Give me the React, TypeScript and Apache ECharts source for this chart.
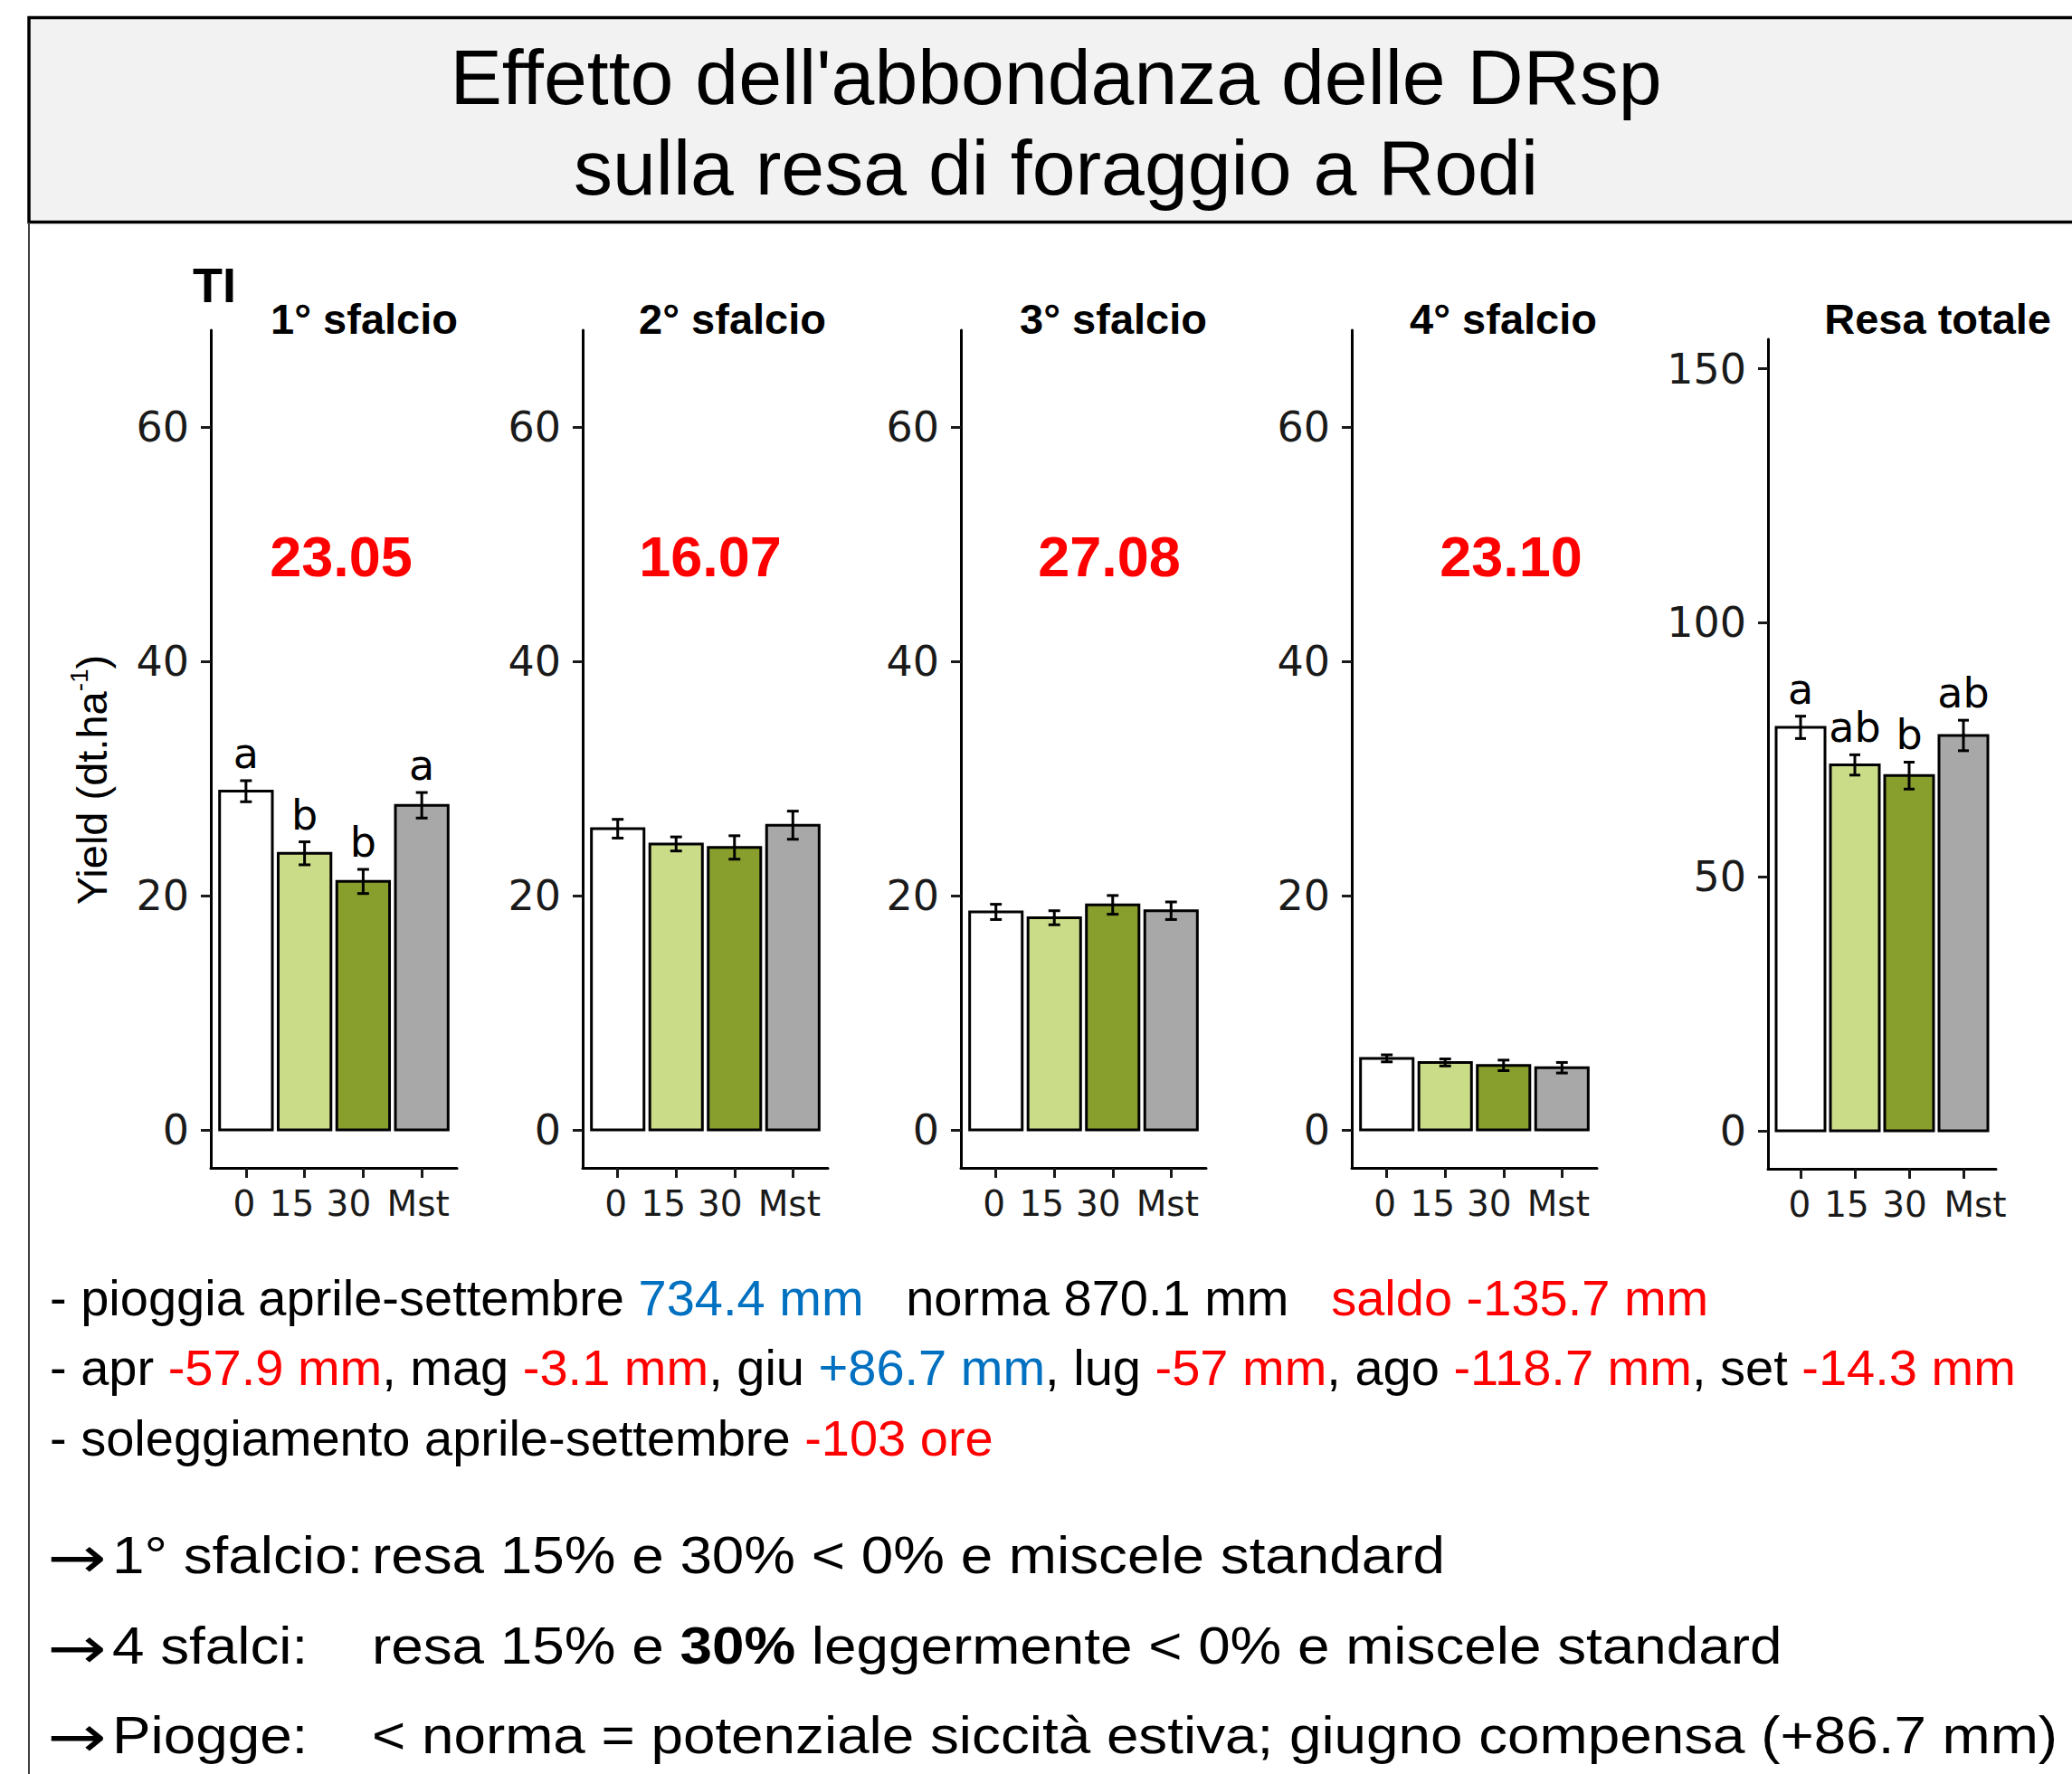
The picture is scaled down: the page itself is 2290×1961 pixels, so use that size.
import React, { useEffect, useRef } from 'react';
import * as echarts from 'echarts';

// ---------- data ----------
const categories = ['0', '15', '30', 'Mst'];
const catPositions = [1, 2, 3, 4];
const barColors = ['#ffffff', '#cbdc88', '#889e2d', '#a8a8a8'];

const cut1Mean = [28.9, 23.6, 21.2, 27.7];
const cut1Se = [0.9, 0.98, 1.03, 1.09];
const cut1Letters = ['a', 'b', 'b', 'a'];

const cut2Mean = [25.7, 24.4, 24.1, 26.0];
const cut2Se = [0.8, 0.6, 1.0, 1.2];

const cut3Mean = [18.6, 18.1, 19.2, 18.7];
const cut3Se = [0.65, 0.6, 0.8, 0.75];

const cut4Mean = [6.1, 5.75, 5.5, 5.3];
const cut4Se = [0.3, 0.3, 0.45, 0.45];

const totalMean = [79.4, 72.0, 69.9, 77.8];
const totalSe = [2.2, 2.0, 2.65, 3.0];
const totalLetters = ['a', 'ab', 'b', 'ab'];

const panelTitles = ['1° sfalcio', '2° sfalcio', '3° sfalcio', '4° sfalcio', 'Resa totale'];
const panelNumbers = ['23.05', '16.07', '27.08', '23.10'];
const cutTicks = [0, 20, 40, 60];
const totalTicks = [0, 50, 100, 150];

// ---------- layout ----------
const grids = [
  { left: 233, top: 365, width: 272, height: 926 },
  { left: 644, top: 365, width: 271, height: 926 },
  { left: 1062, top: 365, width: 271, height: 926 },
  { left: 1494, top: 365, width: 271, height: 926 },
  { left: 1954, top: 375, width: 252, height: 917 },
];
const titleRight = [506, 913, 1334, 1765, 2267];
const numberCenter = [377, 785, 1226, 1670];
// horizontal offset (px) of each x tick label relative to its tick, as in the reference
const cutLabelShift = [-2, -14, -16, -4];
const totalLabelShift = [-1, -9, -5, 13];

const panels = [
  { mean: cut1Mean, se: cut1Se, letters: cut1Letters, ticks: cutTicks, min: -3.25, max: 68.25, shift: cutLabelShift },
  { mean: cut2Mean, se: cut2Se, letters: null, ticks: cutTicks, min: -3.25, max: 68.25, shift: cutLabelShift },
  { mean: cut3Mean, se: cut3Se, letters: null, ticks: cutTicks, min: -3.25, max: 68.25, shift: cutLabelShift },
  { mean: cut4Mean, se: cut4Se, letters: null, ticks: cutTicks, min: -3.25, max: 68.25, shift: cutLabelShift },
  { mean: totalMean, se: totalSe, letters: totalLetters, ticks: totalTicks, min: -7.5, max: 155.8, shift: totalLabelShift },
];

const SANS = 'Liberation Sans';
const DV = 'DejaVu Sans';

function txt(x: number, y: number, text: string, o: any = {}) {
  const align = o.align || 'left';
  const va = o.va || 'middle';
  return {
    type: 'text',
    x,
    y,
    rotation: o.rotation || 0,
    scaleX: o.scaleX || 1,
    scaleY: o.scaleY || 1,
    silent: true,
    z: 10,
    style: {
      text,
      fill: o.fill || '#000',
      fontSize: o.fontSize || 40,
      fontFamily: o.fontFamily || SANS,
      fontWeight: o.fontWeight || 'normal',
      align,
      textAlign: align,
      verticalAlign: va,
      textVerticalAlign: va,
      rich: o.rich,
    },
  };
}

function richSet(size: number, family: string) {
  return {
    k: { fill: '#000', color: '#000', fontSize: size, fontFamily: family },
    r: { fill: '#ff0000', color: '#ff0000', fontSize: size, fontFamily: family },
    b: { fill: '#0070c0', color: '#0070c0', fontSize: size, fontFamily: family },
    bd: { fill: '#000', color: '#000', fontSize: size, fontFamily: family, fontWeight: 'bold' },
  };
}

function makeOption() {
  const xAxis: any[] = [];
  const yAxis: any[] = [];
  const series: any[] = [];

  panels.forEach((p, i) => {
    const rich: any = {};
    p.shift.forEach((d, k) => {
      rich['s' + k] = {
        fontSize: 39,
        fontFamily: DV,
        color: '#1a1a1a',
        padding: d < 0 ? [0, -2 * d, 0, 0] : [0, 0, 0, 2 * d],
      };
    });
    xAxis.push({
      type: 'value',
      gridIndex: i,
      min: 0.4,
      max: 4.6,
      position: 'bottom',
      axisLine: { show: true, onZero: false, lineStyle: { color: '#000', width: 3 } },
      axisTick: { show: true, length: 11, customValues: catPositions, lineStyle: { color: '#1a1a1a', width: 3 } },
      axisLabel: {
        show: true,
        customValues: catPositions,
        formatter: (v: number) => {
          const k = Math.round(v) - 1;
          return categories[k] !== undefined ? '{s' + k + '|' + categories[k] + '}' : '';
        },
        rich,
        margin: 20,
        fontSize: 39,
        fontFamily: DV,
        color: '#1a1a1a',
        hideOverlap: false,
        showMinLabel: true,
        showMaxLabel: true,
      },
      splitLine: { show: false },
    });
    yAxis.push({
      type: 'value',
      gridIndex: i,
      min: p.min,
      max: p.max,
      axisLine: { show: true, onZero: false, lineStyle: { color: '#000', width: 3 } },
      axisTick: { show: true, length: 11, customValues: p.ticks, lineStyle: { color: '#1a1a1a', width: 3 } },
      axisLabel: {
        show: true,
        customValues: p.ticks,
        margin: 24,
        fontSize: 46,
        fontFamily: DV,
        color: '#1a1a1a',
        hideOverlap: false,
      },
      splitLine: { show: false },
    });
    const data = p.mean.map((m, j) => [catPositions[j], m, p.se[j], j]);
    series.push({
      type: 'custom',
      xAxisIndex: i,
      yAxisIndex: i,
      data,
      encode: { x: 0, y: 1 },
      renderItem: (params: any, api: any) => {
        const x = api.value(0);
        const m = api.value(1);
        const s = api.value(2);
        const j = api.value(3);
        const tl = api.coord([x - 0.45, m]);
        const br = api.coord([x + 0.45, 0]);
        const top = api.coord([x, m + s]);
        const bot = api.coord([x, m - s]);
        const capL = api.coord([x - 0.1, m])[0];
        const capR = api.coord([x + 0.1, m])[0];
        const children: any[] = [
          {
            type: 'rect',
            shape: { x: tl[0], y: tl[1], width: br[0] - tl[0], height: br[1] - tl[1] },
            style: { fill: barColors[j], stroke: '#000', lineWidth: 3 },
          },
          { type: 'line', shape: { x1: top[0], y1: top[1], x2: bot[0], y2: bot[1] }, style: { stroke: '#000', lineWidth: 3 } },
          { type: 'line', shape: { x1: capL, y1: top[1], x2: capR, y2: top[1] }, style: { stroke: '#000', lineWidth: 3 } },
          { type: 'line', shape: { x1: capL, y1: bot[1], x2: capR, y2: bot[1] }, style: { stroke: '#000', lineWidth: 3 } },
        ];
        if (p.letters) {
          children.push({
            type: 'text',
            style: {
              text: p.letters[j],
              x: top[0],
              y: top[1] - 30,
              fill: '#000',
              fontSize: 46,
              fontFamily: DV,
              align: 'center',
              textAlign: 'center',
              verticalAlign: 'middle',
              textVerticalAlign: 'middle',
            },
          });
        }
        return { type: 'group', children };
      },
    });
  });

  const graphic: any[] = [];
  // title box
  graphic.push({
    type: 'rect',
    z: 1,
    silent: true,
    shape: { x: 32, y: 19.5, width: 2300, height: 226 },
    style: { fill: '#f2f2f2', stroke: '#000', lineWidth: 3.5 },
  });
  graphic.push({
    type: 'line',
    z: 1,
    silent: true,
    shape: { x1: 32, y1: 246, x2: 32, y2: 1961 },
    style: { stroke: '#404040', lineWidth: 2 },
  });
  graphic.push(txt(1167, 85, "Effetto dell'abbondanza delle DRsp", { align: 'center', fontSize: 86 }));
  graphic.push(txt(1167, 185, 'sulla resa di foraggio a Rodi', { align: 'center', fontSize: 86 }));

  // TI
  graphic.push(txt(213, 315, 'TI', { fontSize: 54, fontWeight: 'bold' }));
  // panel titles
  panelTitles.forEach((t, i) => {
    graphic.push(txt(titleRight[i], 352, t, { align: 'right', fontSize: 47, fontWeight: 'bold' }));
  });
  panelNumbers.forEach((t, i) => {
    graphic.push(txt(numberCenter[i], 615, t, { align: 'center', fontSize: 63, fontWeight: 'bold', fill: '#ff0000' }));
  });
  // y label
  graphic.push(
    txt(101, 862, '{a|Yield (dt.ha}{s|-1}{a|)}', {
      align: 'center',
      rotation: Math.PI / 2,
      fontSize: 47,
      rich: {
        a: { fontSize: 47, fontFamily: SANS, fill: '#000', color: '#000', lineHeight: 56 },
        s: { fontSize: 28, fontFamily: SANS, fill: '#000', color: '#000', verticalAlign: 'top', lineHeight: 56 },
      },
    })
  );

  // notes
  const r56 = richSet(56, SANS);
  graphic.push(
    txt(55, 1434, '{k|- pioggia aprile-settembre }{b|734.4 mm   }{k|norma 870.1 mm   }{r|saldo -135.7 mm}', {
      fontSize: 56,
      rich: r56,
    })
  );
  graphic.push(
    txt(
      55,
      1511,
      '{k|- apr }{r|-57.9 mm}{k|, mag }{r|-3.1 mm}{k|, giu }{b|+86.7 mm}{k|, lug }{r|-57 mm}{k|, ago }{r|-118.7 mm}{k|, set }{r|-14.3 mm}',
      { fontSize: 56, rich: r56 }
    )
  );
  graphic.push(
    txt(55, 1589, '{k|- soleggiamento aprile-settembre }{r|-103 ore}', { fontSize: 56, rich: r56 })
  );

  const r58 = richSet(58, SANS);
  const arrowY = [1722, 1822, 1920];
  const lineY = [1719, 1819, 1918];
  const labels = ['1° sfalcio:', '4 sfalci:', 'Piogge:'];
  const rests = [
    '{k|resa 15% e 30% < 0% e miscele standard}',
    '{k|resa 15% e }{bd|30% }{k|leggermente < 0% e miscele standard}',
    '{k|< norma = potenziale siccità estiva; giugno compensa (+86.7 mm)}',
  ];
  labels.forEach((l, i) => {
    graphic.push(txt(52, arrowY[i], '→', { fontSize: 64, fontFamily: DV, scaleX: 1.22 }));
    graphic.push(txt(124, lineY[i], l, { fontSize: 58, scaleX: 1.1 }));
    graphic.push(txt(411, lineY[i], rests[i], { fontSize: 58, scaleX: 1.1, rich: r58 }));
  });

  return {
    animation: false,
    backgroundColor: '#ffffff',
    grid: grids.map((g) => ({ ...g, containLabel: false })),
    xAxis,
    yAxis,
    series,
    graphic,
  };
}

export default function App() {
  const ref = useRef<HTMLDivElement>(null);
  useEffect(() => {
    if (!ref.current) return;
    const chart = echarts.init(ref.current, undefined, { renderer: 'svg' });
    chart.setOption(makeOption() as any);
    return () => chart.dispose();
  }, []);
  return (
    <div
      ref={ref}
      style={{ position: 'absolute', left: 0, top: 0, width: 2290, height: 1961, background: '#fff' }}
    />
  );
}
